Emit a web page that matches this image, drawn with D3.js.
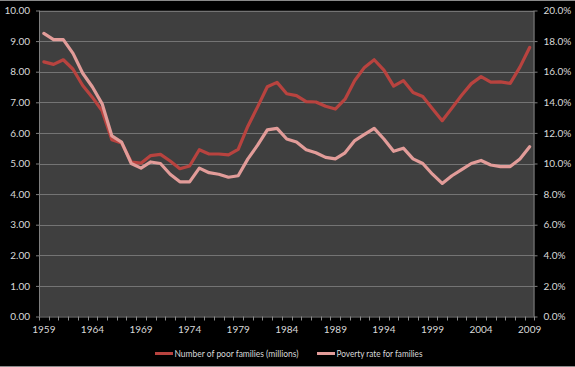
<!DOCTYPE html>
<html>
<head>
<meta charset="utf-8">
<script src="https://cdn.jsdelivr.net/npm/d3@7"></script>
<style>
  html, body { margin: 0; padding: 0; background: #000; }
  svg { display: block; }
  .axis text { fill: #d9d9d9; font-family: Lato, "Open Sans", sans-serif; font-size: 10px; }
  .axis path { stroke: #7f7f7f; }
  .axis line { stroke: #7f7f7f; }
  .legend text { fill: #d9d9d9; font-family: Lato, "Open Sans", sans-serif; font-size: 10px; }
</style>
</head>
<body>
<div id="chart"></div>
<script>
/* ── DATA ── */
const years = d3.range(1959, 2010);

// number of poor families (millions)
const poorFamilies = [
  8.32, 8.24, 8.39, 8.08, 7.55, 7.16, 6.72, 5.78, 5.67, 5.05,
  5.01, 5.26, 5.30, 5.08, 4.83, 4.92, 5.45, 5.31, 5.31, 5.28,
  5.46, 6.22, 6.85, 7.51, 7.65, 7.28, 7.22, 7.02, 7.01, 6.87,
  6.78, 7.10, 7.71, 8.14, 8.39, 8.05, 7.53, 7.71, 7.32, 7.19,
  6.79, 6.40, 6.81, 7.23, 7.61, 7.84, 7.66, 7.67, 7.62, 8.15,
  8.79
];

// poverty rate for families (%)
const povertyRate = [
  18.5, 18.1, 18.1, 17.2, 15.9, 15.0, 13.9, 11.8, 11.4, 10.0,
   9.7, 10.1, 10.0,  9.3,  8.8,  8.8,  9.7,  9.4,  9.3,  9.1,
   9.2, 10.3, 11.2, 12.2, 12.3, 11.6, 11.4, 10.9, 10.7, 10.4,
  10.3, 10.7, 11.5, 11.9, 12.3, 11.6, 10.8, 11.0, 10.3, 10.0,
   9.3,  8.7,  9.2,  9.6, 10.0, 10.2,  9.9,  9.8,  9.8, 10.3,
  11.1
];

const yearLabels  = d3.range(1959, 2010, 5);
const leftTicks   = d3.range(0, 10.001, 1);
const rightTicks  = d3.range(0, 20.001, 2);
const seriesNames = ['Number of poor families (millions)', 'Poverty rate for families'];

/* ── LAYOUT ── */
const W = 575, H = 367;
const plot = { left: 39, right: 534.5, top: 10.5, bottom: 316.5 };
const RED  = '#b8433f';
const PINK = '#e29c99';

const svg = d3.select('#chart').append('svg').attr('width', W).attr('height', H);

svg.append('rect').attr('width', W).attr('height', H).attr('fill', '#000');
// chart border
svg.append('rect').attr('x', -1).attr('y', 0.5).attr('width', W + 2).attr('height', H - 1)
  .attr('fill', 'none').attr('stroke', '#8a8a8a').attr('stroke-width', 1);

svg.append('rect')
  .attr('x', plot.left).attr('y', plot.top)
  .attr('width', plot.right - plot.left).attr('height', plot.bottom - plot.top)
  .attr('fill', '#3f3f3f');

/* ── SCALES ── */
const x  = d3.scaleBand().domain(years).range([plot.left, plot.right]).padding(0);
const yL = d3.scaleLinear().domain([0, 10]).range([plot.bottom, plot.top]);
const yR = d3.scaleLinear().domain([0, 20]).range([plot.bottom, plot.top]);
const cx = d => x(d) + x.bandwidth() / 2;

// grid
svg.append('g').selectAll('line').data(leftTicks.slice(1)).enter().append('line')
  .attr('x1', plot.left).attr('x2', plot.right)
  .attr('y1', d => Math.round(yL(d)) + 0.5).attr('y2', d => Math.round(yL(d)) + 0.5)
  .attr('stroke', '#747474').attr('stroke-width', 1);

// axes
svg.append('g').attr('class', 'axis')
  .attr('transform', `translate(${plot.left},0)`)
  .call(d3.axisLeft(yL).tickValues(leftTicks).tickFormat(d3.format('.2f')).tickSize(3).tickPadding(6))
  .call(g => g.select('.domain').remove());

svg.append('g').attr('class', 'axis')
  .attr('transform', `translate(${plot.right},0)`)
  .call(d3.axisRight(yR).tickValues(rightTicks).tickFormat(d => d.toFixed(1) + '%').tickSize(3).tickPadding(6))
  .call(g => g.select('.domain').remove());

// vertical axis lines
svg.append('line').attr('x1', plot.left + 0.5).attr('x2', plot.left + 0.5)
  .attr('y1', plot.top).attr('y2', plot.bottom).attr('stroke', '#7f7f7f');
svg.append('line').attr('x1', plot.right - 0.5).attr('x2', plot.right - 0.5)
  .attr('y1', plot.top).attr('y2', plot.bottom).attr('stroke', '#7f7f7f');

// x axis: labels every 5 years at category centres
svg.append('g').attr('class', 'axis')
  .attr('transform', `translate(0,${plot.bottom})`)
  .call(d3.axisBottom(x).tickValues(yearLabels).tickSize(0).tickPadding(9))
  .call(g => g.select('.domain').attr('stroke', '#8a8a8a'));

// x tick marks between categories
svg.append('g').selectAll('line').data(years.concat([null])).enter().append('line')
  .attr('x1', d => d === null ? plot.right : Math.round(x(d)) + 0.5)
  .attr('x2', d => d === null ? plot.right : Math.round(x(d)) + 0.5)
  .attr('y1', plot.bottom).attr('y2', plot.bottom + 4)
  .attr('stroke', '#8a8a8a');

/* ── LINES ── */
const lineL = d3.line().x((d, i) => cx(years[i])).y(d => yL(d));
const lineR = d3.line().x((d, i) => cx(years[i])).y(d => yR(d));

svg.append('path').datum(poorFamilies).attr('d', lineL)
  .attr('fill', 'none').attr('stroke', RED).attr('stroke-width', 3.2)
  .attr('stroke-linejoin', 'round').attr('stroke-linecap', 'round');

svg.append('path').datum(povertyRate).attr('d', lineR)
  .attr('fill', 'none').attr('stroke', PINK).attr('stroke-width', 3.2)
  .attr('stroke-linejoin', 'round').attr('stroke-linecap', 'round');

/* ── LEGEND ── */
const legend = svg.append('g').attr('class', 'legend');
const legendItems = [
  { name: seriesNames[0], color: RED,  x: 155, w: 124 },
  { name: seriesNames[1], color: PINK, x: 317, w: 86 }
];
legendItems.forEach(item => {
  legend.append('line').attr('x1', item.x).attr('x2', item.x + 18)
    .attr('y1', 353.5).attr('y2', 353.5).attr('stroke', item.color).attr('stroke-width', 3);
  legend.append('text').attr('x', item.x + 19.5).attr('y', 357)
    .attr('textLength', item.w).attr('lengthAdjust', 'spacingAndGlyphs')
    .text(item.name);
});
</script>
</body>
</html>
